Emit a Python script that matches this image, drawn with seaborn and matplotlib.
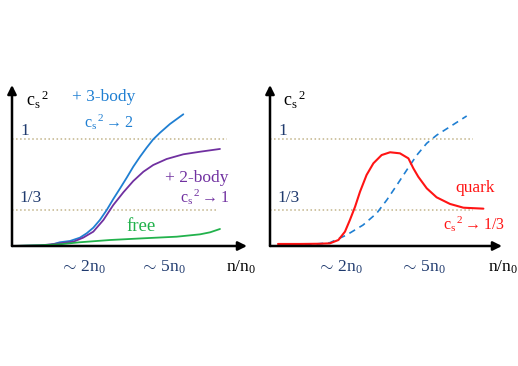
import numpy as np
import pandas as pd
import matplotlib
matplotlib.use('Agg')
import matplotlib.pyplot as plt
import seaborn as sns

sns.set_style("white")
plt.rcParams['font.family'] = ['Liberation Serif', 'DejaVu Serif']
plt.rcParams['mathtext.fontset'] = 'custom'
plt.rcParams['mathtext.rm'] = 'Liberation Serif'
plt.rcParams['mathtext.it'] = 'Liberation Serif:italic'

# colours
azul = '#1f7fd2'
roxo = '#7030a0'
verde = '#22b24c'
vermelho = '#ff1414'
marinho = '#1f3a6e'
pontilhado = '#c2b48a'

# left panel: hadronic curves (x in arbitrary density units, y = c_s^2)
azul_x = [0, 1.19, 1.62, 2.04, 2.47, 2.89, 3.18, 3.46, 3.74, 4.03, 4.31, 4.60, 4.88,
          5.16, 5.45, 5.73, 6.01, 6.30, 6.72, 7.29]
azul_y = [0, 0.004, 0.009, 0.035, 0.047, 0.078, 0.119, 0.171, 0.243, 0.336, 0.439,
          0.539, 0.638, 0.741, 0.835, 0.919, 0.997, 1.059, 1.140, 1.231]

roxo_x = [0, 1.19, 2.04, 2.61, 3.03, 3.46, 3.89, 4.31, 4.74, 5.16, 5.59, 6.01, 6.58,
          7.29, 8.0, 8.85]
roxo_y = [0, 0.005, 0.025, 0.040, 0.078, 0.134, 0.243, 0.383, 0.502, 0.607, 0.694,
          0.757, 0.813, 0.857, 0.881, 0.907]

verde_x = [0, 1.19, 2.04, 2.89, 4.17, 5.59, 7.01, 8.0, 8.43, 8.85]
verde_y = [0, 0.007, 0.016, 0.035, 0.056, 0.072, 0.087, 0.109, 0.128, 0.159]

# right panel: quark curve and dashed hadronic reference
quark_x = [0.34, 1.28, 2.13, 2.55, 2.91, 3.19, 3.40, 3.62, 3.83, 4.11, 4.40, 4.75,
           5.11, 5.53, 5.89, 6.10, 6.31, 6.67, 7.09, 7.66, 8.23, 9.08]
quark_y = [0.019, 0.019, 0.021, 0.025, 0.056, 0.134, 0.243, 0.367, 0.507, 0.664,
           0.773, 0.850, 0.876, 0.866, 0.819, 0.726, 0.647, 0.539, 0.455, 0.393,
           0.358, 0.349]

tracej_x = [0, 1.28, 2.55, 3.26, 3.96, 4.54, 4.97, 5.40, 5.82, 6.25, 6.67, 7.10,
            7.66, 8.37]
tracej_y = [0, 0.005, 0.031, 0.103, 0.196, 0.306, 0.430, 0.570, 0.710, 0.850, 0.960,
            1.037, 1.115, 1.215]

# reference levels
niveis = [1.0, 1/3]
fim_esq = [9.15, 8.72]
fim_dir = [8.64, 8.64]

W, H = 518, 366
fig = plt.figure(figsize=(W / 100, H / 100), dpi=100)
fig.patch.set_facecolor('white')

ax1 = fig.add_axes([12 / W, (H - 246) / H, 235 / W, 161 / H])
ax2 = fig.add_axes([270 / W, (H - 246) / H, 232 / W, 161 / H])

ymax = 161 / 107
ax1.set_xlim(0, 10)
ax2.set_xlim(0, 232 / 23.5)

cs2 = r'$\mathrm{c_s{}^{\,2}}$'
seta = r'$\mathrm{\rightarrow}$'

for ax, fins in [(ax1, fim_esq), (ax2, fim_dir)]:
    ax.set_ylim(0, ymax)
    ax.axis('off')
    for nv, fx in zip(niveis, fins):
        ax.plot([0, fx], [nv, nv], ls=':', color=pontilhado, lw=1.1)
    # axes as arrows
    kw = dict(arrowstyle='-|>', color='black', lw=1.8, shrinkA=0, shrinkB=0,
              mutation_scale=13)
    ax.annotate('', xy=(1, 0), xytext=(0, 0), xycoords='axes fraction',
                arrowprops=kw, annotation_clip=False)
    ax.annotate('', xy=(0, 1), xytext=(0, 0), xycoords='axes fraction',
                arrowprops=kw, annotation_clip=False)
    ax.text(0.34, 1.075, '1', fontsize=12.5, color=marinho, va='center')
    ax.text(0.30, 0.449, '1/3', fontsize=12.5, color=marinho, va='center')

# Gráfico 1
sns.lineplot(x=azul_x, y=azul_y, ax=ax1, color=azul, lw=1.3)
sns.lineplot(x=roxo_x, y=roxo_y, ax=ax1, color=roxo, lw=1.3)
sns.lineplot(x=verde_x, y=verde_y, ax=ax1, color=verde, lw=1.3)

ax1.text(0.60, 1.364, cs2, fontsize=13, color='black', va='center')
ax1.text(2.55, 1.393, '+ 3-body', fontsize=12.5, color=azul, va='center')
ax1.text(3.06, 1.159, cs2 + seta + '2', fontsize=11.5, color=azul, va='center')
ax1.text(6.51, 0.636, '+ 2-body', fontsize=12.5, color=roxo, va='center')
ax1.text(7.15, 0.458, cs2 + seta + '1', fontsize=11.5, color=roxo, va='center')
ax1.text(4.89, 0.178, 'free', fontsize=13.5, color=verde, va='center')
ax1.text(3.02, -0.196, r'$\mathrm{\sim\,2n_0}$', fontsize=12.5, color=marinho,
         ha='center', va='center')
ax1.text(6.43, -0.196, r'$\mathrm{\sim\,5n_0}$', fontsize=12.5, color=marinho,
         ha='center', va='center')
ax1.text(9.11, -0.196, r'$\mathrm{n/n_0}$', fontsize=12.5, color='black', va='center')

# Gráfico 2
sns.lineplot(x=tracej_x, y=tracej_y, ax=ax2, color=azul, lw=1.2, linestyle=(0, (4, 3)))
sns.lineplot(x=quark_x, y=quark_y, ax=ax2, color=vermelho, lw=1.5)

ax2.text(0.55, 1.364, cs2, fontsize=13, color='black', va='center')
ax2.text(7.87, 0.542, 'quark', fontsize=12.5, color=vermelho, va='center')
ax2.text(7.36, 0.206, cs2 + seta + '1/3', fontsize=11.5, color=vermelho, va='center')
ax2.text(2.98, -0.196, r'$\mathrm{\sim\,2n_0}$', fontsize=12.5, color=marinho,
         ha='center', va='center')
ax2.text(6.51, -0.196, r'$\mathrm{\sim\,5n_0}$', fontsize=12.5, color=marinho,
         ha='center', va='center')
ax2.text(9.28, -0.196, r'$\mathrm{n/n_0}$', fontsize=12.5, color='black', va='center')

fig.savefig('out.png', dpi=100, facecolor='white')
